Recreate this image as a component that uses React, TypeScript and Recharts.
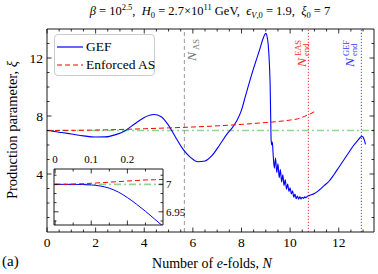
import { LineChart, Line, XAxis, YAxis, ReferenceLine, Legend } from "recharts";

const SERIF = "'Liberation Serif', 'DejaVu Serif', serif";

// GEF solution, xi(N)
const gefN = [
  0, 0.15, 0.3, 0.6, 1.0, 1.5, 2.0, 2.4, 2.8, 3.2, 3.6, 4.0, 4.4, 4.7, 5.0, 5.3, 5.6, 5.9, 6.2, 6.5,
  6.8, 7.1, 7.4, 7.6, 7.8, 8.0, 8.15, 8.5, 8.75, 8.9, 9.0, 9.05, 9.1, 9.15, 9.18, 9.2, 9.22, 9.25, 9.27, 9.3,
  9.35, 9.4, 9.45, 9.5, 9.55, 9.6, 9.65, 9.7, 9.75, 9.8, 9.85, 9.9, 9.95, 10.0, 10.05, 10.1, 10.15, 10.2, 10.25, 10.3,
  10.35, 10.4, 10.45, 10.5, 10.55, 10.6, 10.65, 10.7, 10.8, 11.0, 11.2, 11.4, 11.6, 11.8, 12.0, 12.2, 12.4, 12.6, 12.8, 12.9,
  12.95, 13.0, 13.05, 13.1,
];
const gefXi = [
  7.0, 6.99, 6.93, 6.86, 6.76, 6.63, 6.55, 6.56, 6.7, 6.97, 7.45, 7.9, 8.1, 7.95, 7.35, 6.5, 5.7, 5.15, 4.85, 4.9,
  5.3, 6.0, 6.75, 7.15, 7.65, 8.4, 9.3, 11.3, 12.6, 13.4, 13.7, 13.5, 12.9, 11.5, 10.0, 8.0, 6.3, 6.0, 6.2, 5.4,
  4.4, 5.1, 4.1, 4.7, 3.75, 4.3, 3.45, 3.95, 3.2, 3.6, 2.95, 3.3, 2.8, 3.05, 2.62, 2.85, 2.4, 2.62, 2.3, 2.48,
  2.27, 2.42, 2.28, 2.4, 2.32, 2.42, 2.37, 2.45, 2.52, 2.65, 2.9, 3.2, 3.5, 3.95, 4.45, 4.95, 5.45, 5.95, 6.35, 6.55,
  6.6, 6.55, 6.35, 6.05,
];

// Enforced AS solution
const easN = [0, 1, 2, 3, 4, 5, 6, 7, 8, 9, 9.5, 10, 10.3, 10.6, 10.8, 11.0];
const easXi = [7.0, 7.01, 7.03, 7.07, 7.12, 7.18, 7.24, 7.32, 7.42, 7.55, 7.62, 7.72, 7.8, 7.98, 8.12, 8.3];

// inset (zoom on the first 0.3 e-folds)
const insetN = [0, 0.05, 0.1, 0.125, 0.15, 0.175, 0.2, 0.225, 0.25, 0.275, 0.3];
const insetGef = [7.0, 7.0, 6.999, 6.997, 6.993, 6.986, 6.976, 6.964, 6.951, 6.937, 6.923];
const insetEas = [7.0, 7.0005, 7.002, 7.003, 7.004, 7.005, 7.006, 7.007, 7.008, 7.0085, 7.009];

const xi0 = 7;
const nAS = 5.65;
const nEndEAS = 10.75;
const nEndGEF = 12.93;

const xMajor = [0, 2, 4, 6, 8, 10, 12];
const xMinor = [0.5, 1, 1.5, 2.5, 3, 3.5, 4.5, 5, 5.5, 6.5, 7, 7.5, 8.5, 9, 9.5, 10.5, 11, 11.5, 12.5, 13];
const yMajor = [4, 8, 12];
const yMinor = [1, 2, 3, 5, 6, 7, 9, 10, 11, 13];
const insetXMajor = [0, 0.1, 0.2];
const insetXMinor = [0.05, 0.15, 0.25];
const insetYMajor = [6.95, 7];
const insetYMinor = [6.9333, 6.9667, 6.9833, 7.0167];

const legendOrder = ["GEF", "Enforced AS"];

const zip = (a: number[], b: number[]) => a.map((n, i) => ({ n, xi: b[i] }));
const gefData = zip(gefN, gefXi);
const easData = zip(easN, easXi);
const insetGefData = zip(insetN, insetGef);
const insetEasData = zip(insetN, insetEas);

const dashes: Record<string, string> = { GEF: "", "Enforced AS": "5 3" };
const AX = { stroke: "#000", strokeWidth: 0.9 };

const makeTick = (side: string, majors: number[], fs: number, showLabel: boolean) =>
  (props: any) => {
    const { x, y, payload } = props;
    const v = payload.value;
    const major = majors.includes(v);
    const len = major ? 4.5 : 2.5;
    const lbl = String(v);
    let line = null;
    let text = null;
    if (side === "bottom") {
      line = <line x1={x} x2={x} y1={y} y2={y - len} stroke="#000" strokeWidth={0.8} />;
      if (showLabel && major) text = <text x={x} y={y + 15} textAnchor="middle">{lbl}</text>;
    } else if (side === "top") {
      line = <line x1={x} x2={x} y1={y} y2={y + len} stroke="#000" strokeWidth={0.8} />;
      if (showLabel && major) text = <text x={x} y={y - 6} textAnchor="middle">{lbl}</text>;
    } else if (side === "left") {
      line = <line x1={x} x2={x + len} y1={y} y2={y} stroke="#000" strokeWidth={0.8} />;
      if (showLabel && major) text = <text x={x - 4} y={y + 4.5} textAnchor="end">{lbl}</text>;
    } else {
      line = <line x1={x} x2={x - len} y1={y} y2={y} stroke="#000" strokeWidth={0.8} />;
      if (showLabel && major) text = <text x={x + 3} y={y + 4} textAnchor="start">{lbl}</text>;
    }
    return (
      <g fontFamily={SERIF} fontSize={fs} fill="#000">
        {line}
        {text}
      </g>
    );
  };

const VLabel = (props: any) => {
  const { viewBox, color, dx, bottom, sup, sub } = props;
  return (
    <g transform={`translate(${viewBox.x + dx},${bottom}) rotate(-90)`} fill={color} fontFamily={SERIF}>
      <text x={0} y={0} fontSize={13.5} fontStyle="italic">N</text>
      {sup && <text x={11} y={-5.5} fontSize={8.5}>{sup}</text>}
      {sub && <text x={11} y={3} fontSize={8.5}>{sub}</text>}
    </g>
  );
};

const renderLegend = (props: any) => {
  const items = [...(props.payload || [])].sort(
    (a: any, b: any) => legendOrder.indexOf(a.value) - legendOrder.indexOf(b.value)
  );
  return (
    <div
      style={{
        width: 101,
        height: 42,
        boxSizing: "border-box",
        border: "1px solid #cccccc",
        borderRadius: 4,
        background: "rgba(255,255,255,0.85)",
        fontFamily: SERIF,
        fontSize: 13.5,
        paddingTop: 3,
        whiteSpace: "nowrap",
      }}
    >
      {items.map((e: any, i: number) => (
        <div key={i} style={{ display: "flex", alignItems: "center", height: 18, lineHeight: "18px" }}>
          <svg width={31} height={10} style={{ display: "block", flex: "none" }}>
            <line x1={2} x2={28} y1={5} y2={5} stroke={e.color} strokeWidth={1.2} strokeDasharray={dashes[e.value]} />
          </svg>
          <span>{e.value}</span>
        </div>
      ))}
    </div>
  );
};

export default function App() {
  return (
    <div style={{ position: "absolute", left: 0, top: 0, width: 378, height: 274, background: "#fff" }}>
      <div style={{ position: "absolute", left: 0, top: 0 }}>
        <LineChart width={378} height={274} margin={{ top: 28, right: 3, bottom: 22, left: 17 }}>
          <XAxis type="number" dataKey="n" domain={[0, 13.45]} ticks={[...xMajor, ...xMinor]} interval={0}
            height={20} tickSize={0} tickMargin={0} tickLine={false} axisLine={AX}
            tick={makeTick("bottom", xMajor, 13.5, true)} allowDataOverflow />
          <XAxis xAxisId="top" orientation="top" type="number" dataKey="n" domain={[0, 13.45]} ticks={[...xMajor, ...xMinor]}
            interval={0} height={1} tickSize={0} tickMargin={0} tickLine={false} axisLine={AX}
            tick={makeTick("top", xMajor, 13.5, false)} allowDataOverflow />
          <YAxis type="number" dataKey="xi" domain={[0, 14]} ticks={[...yMajor, ...yMinor]} interval={0}
            width={30} tickSize={0} tickMargin={0} tickLine={false} axisLine={AX}
            tick={makeTick("left", yMajor, 13.5, true)} allowDataOverflow />
          <YAxis yAxisId="right" orientation="right" type="number" dataKey="xi" domain={[0, 14]} ticks={[...yMajor, ...yMinor]} interval={0}
            width={1} tickSize={0} tickMargin={0} tickLine={false} axisLine={AX}
            tick={makeTick("right", yMajor, 13.5, false)} allowDataOverflow />
          <ReferenceLine y={xi0} stroke="#8fd68f" strokeWidth={1.6} strokeDasharray="7 3 2 3" />
          <ReferenceLine x={nAS} stroke="#9a9a9a" strokeWidth={1} strokeDasharray="4 3"
            label={<VLabel color="#777" dx={12} bottom={61} sub="AS" />} />
          <ReferenceLine x={nEndEAS} stroke="#ff2a2a" strokeWidth={1} strokeDasharray="1.2 1.8"
            label={<VLabel color="#ff2a2a" dx={-2} bottom={67} sup="EAS" sub="end" />} />
          <ReferenceLine x={nEndGEF} stroke="#4a4aff" strokeWidth={1} strokeDasharray="1.2 1.8"
            label={<VLabel color="#3a3aff" dx={-7} bottom={67} sup="GEF" sub="end" />} />
          <Line data={gefData} dataKey="xi" name="GEF" type="monotone" stroke="#0000ff" strokeWidth={1.1}
            dot={false} isAnimationActive={false} />
          <Line data={easData} dataKey="xi" name="Enforced AS" type="monotone" stroke="#ff0000" strokeWidth={1}
            strokeDasharray="5 3" dot={false} isAnimationActive={false} />
          <Legend layout="vertical" align="center" verticalAlign="middle" content={renderLegend}
            wrapperStyle={{ left: 54, top: 34, width: 101, height: 42 }} />
        </LineChart>
      </div>

      <div style={{ position: "absolute", left: 54, top: 169, width: 109, height: 56, background: "#fff" }} />
      <div style={{ position: "absolute", left: 40, top: 150 }}>
        <LineChart width={150} height={90} margin={{ top: 18, right: 26, bottom: 14, left: 13 }}>
          <XAxis type="number" dataKey="n" domain={[-0.003, 0.2985]} ticks={[...insetXMajor, ...insetXMinor]} interval={0}
            height={1} tickSize={0} tickMargin={0} tickLine={false} axisLine={AX}
            tick={makeTick("bottom", insetXMajor, 11, false)} allowDataOverflow />
          <XAxis xAxisId="top" orientation="top" type="number" dataKey="n" domain={[-0.003, 0.2985]} ticks={[...insetXMajor, ...insetXMinor]}
            interval={0} height={1} tickSize={0} tickMargin={0} tickLine={false} axisLine={AX}
            tick={makeTick("top", insetXMajor, 11, true)} allowDataOverflow />
          <YAxis type="number" dataKey="xi" domain={[6.926, 7.028]} ticks={[...insetYMajor, ...insetYMinor]} interval={0}
            width={1} tickSize={0} tickMargin={0} tickLine={false} axisLine={AX}
            tick={makeTick("left", insetYMajor, 11, false)} allowDataOverflow />
          <YAxis yAxisId="right" orientation="right" type="number" dataKey="xi" domain={[6.926, 7.028]} ticks={[...insetYMajor, ...insetYMinor]}
            interval={0} width={1} tickSize={0} tickMargin={0} tickLine={false} axisLine={AX}
            tick={makeTick("right", insetYMajor, 11, true)} allowDataOverflow />
          <ReferenceLine y={xi0} stroke="#8fd68f" strokeWidth={1.6} strokeDasharray="7 3 2 3" />
          <Line data={insetGefData} dataKey="xi" type="monotone" stroke="#0000ff" strokeWidth={1}
            dot={false} isAnimationActive={false} />
          <Line data={insetEasData} dataKey="xi" type="monotone" stroke="#ff0000" strokeWidth={1}
            strokeDasharray="5 3" dot={false} isAnimationActive={false} />
        </LineChart>
      </div>

      <svg width={378} height={274} style={{ position: "absolute", left: 0, top: 0, pointerEvents: "none" }}
        fontFamily={SERIF} fill="#000">
        <text x={210} y={15} textAnchor="middle" fontSize={12.5} style={{ whiteSpace: "pre" }}>
          <tspan fontStyle="italic">β</tspan>
          <tspan> = 10</tspan>
          <tspan dy={-5} fontSize={8.5}>2.5</tspan>
          <tspan dy={5}>,  </tspan>
          <tspan fontStyle="italic">H</tspan>
          <tspan dy={3} fontSize={8.5}>0</tspan>
          <tspan dy={-3}> = 2.7×10</tspan>
          <tspan dy={-5} fontSize={8.5}>11</tspan>
          <tspan dy={5}> GeV,  </tspan>
          <tspan fontStyle="italic">ϵ</tspan>
          <tspan dy={3} fontSize={8.5} fontStyle="italic">V</tspan>
          <tspan fontSize={8.5}>,0</tspan>
          <tspan dy={-3}> = 1.9,  </tspan>
          <tspan fontStyle="italic">ξ</tspan>
          <tspan dy={3} fontSize={8.5}>0</tspan>
          <tspan dy={-3}> = 7</tspan>
        </text>
        <text x={212} y={268} textAnchor="middle" fontSize={14}>
          Number of <tspan fontStyle="italic">e</tspan>-folds, <tspan fontStyle="italic">N</tspan>
        </text>
        <text transform="translate(17,130) rotate(-90)" textAnchor="middle" fontSize={14.5}>
          Production parameter, <tspan fontStyle="italic">ξ</tspan>
        </text>
        <text x={2} y={266} fontSize={15}>(a)</text>
      </svg>
    </div>
  );
}
